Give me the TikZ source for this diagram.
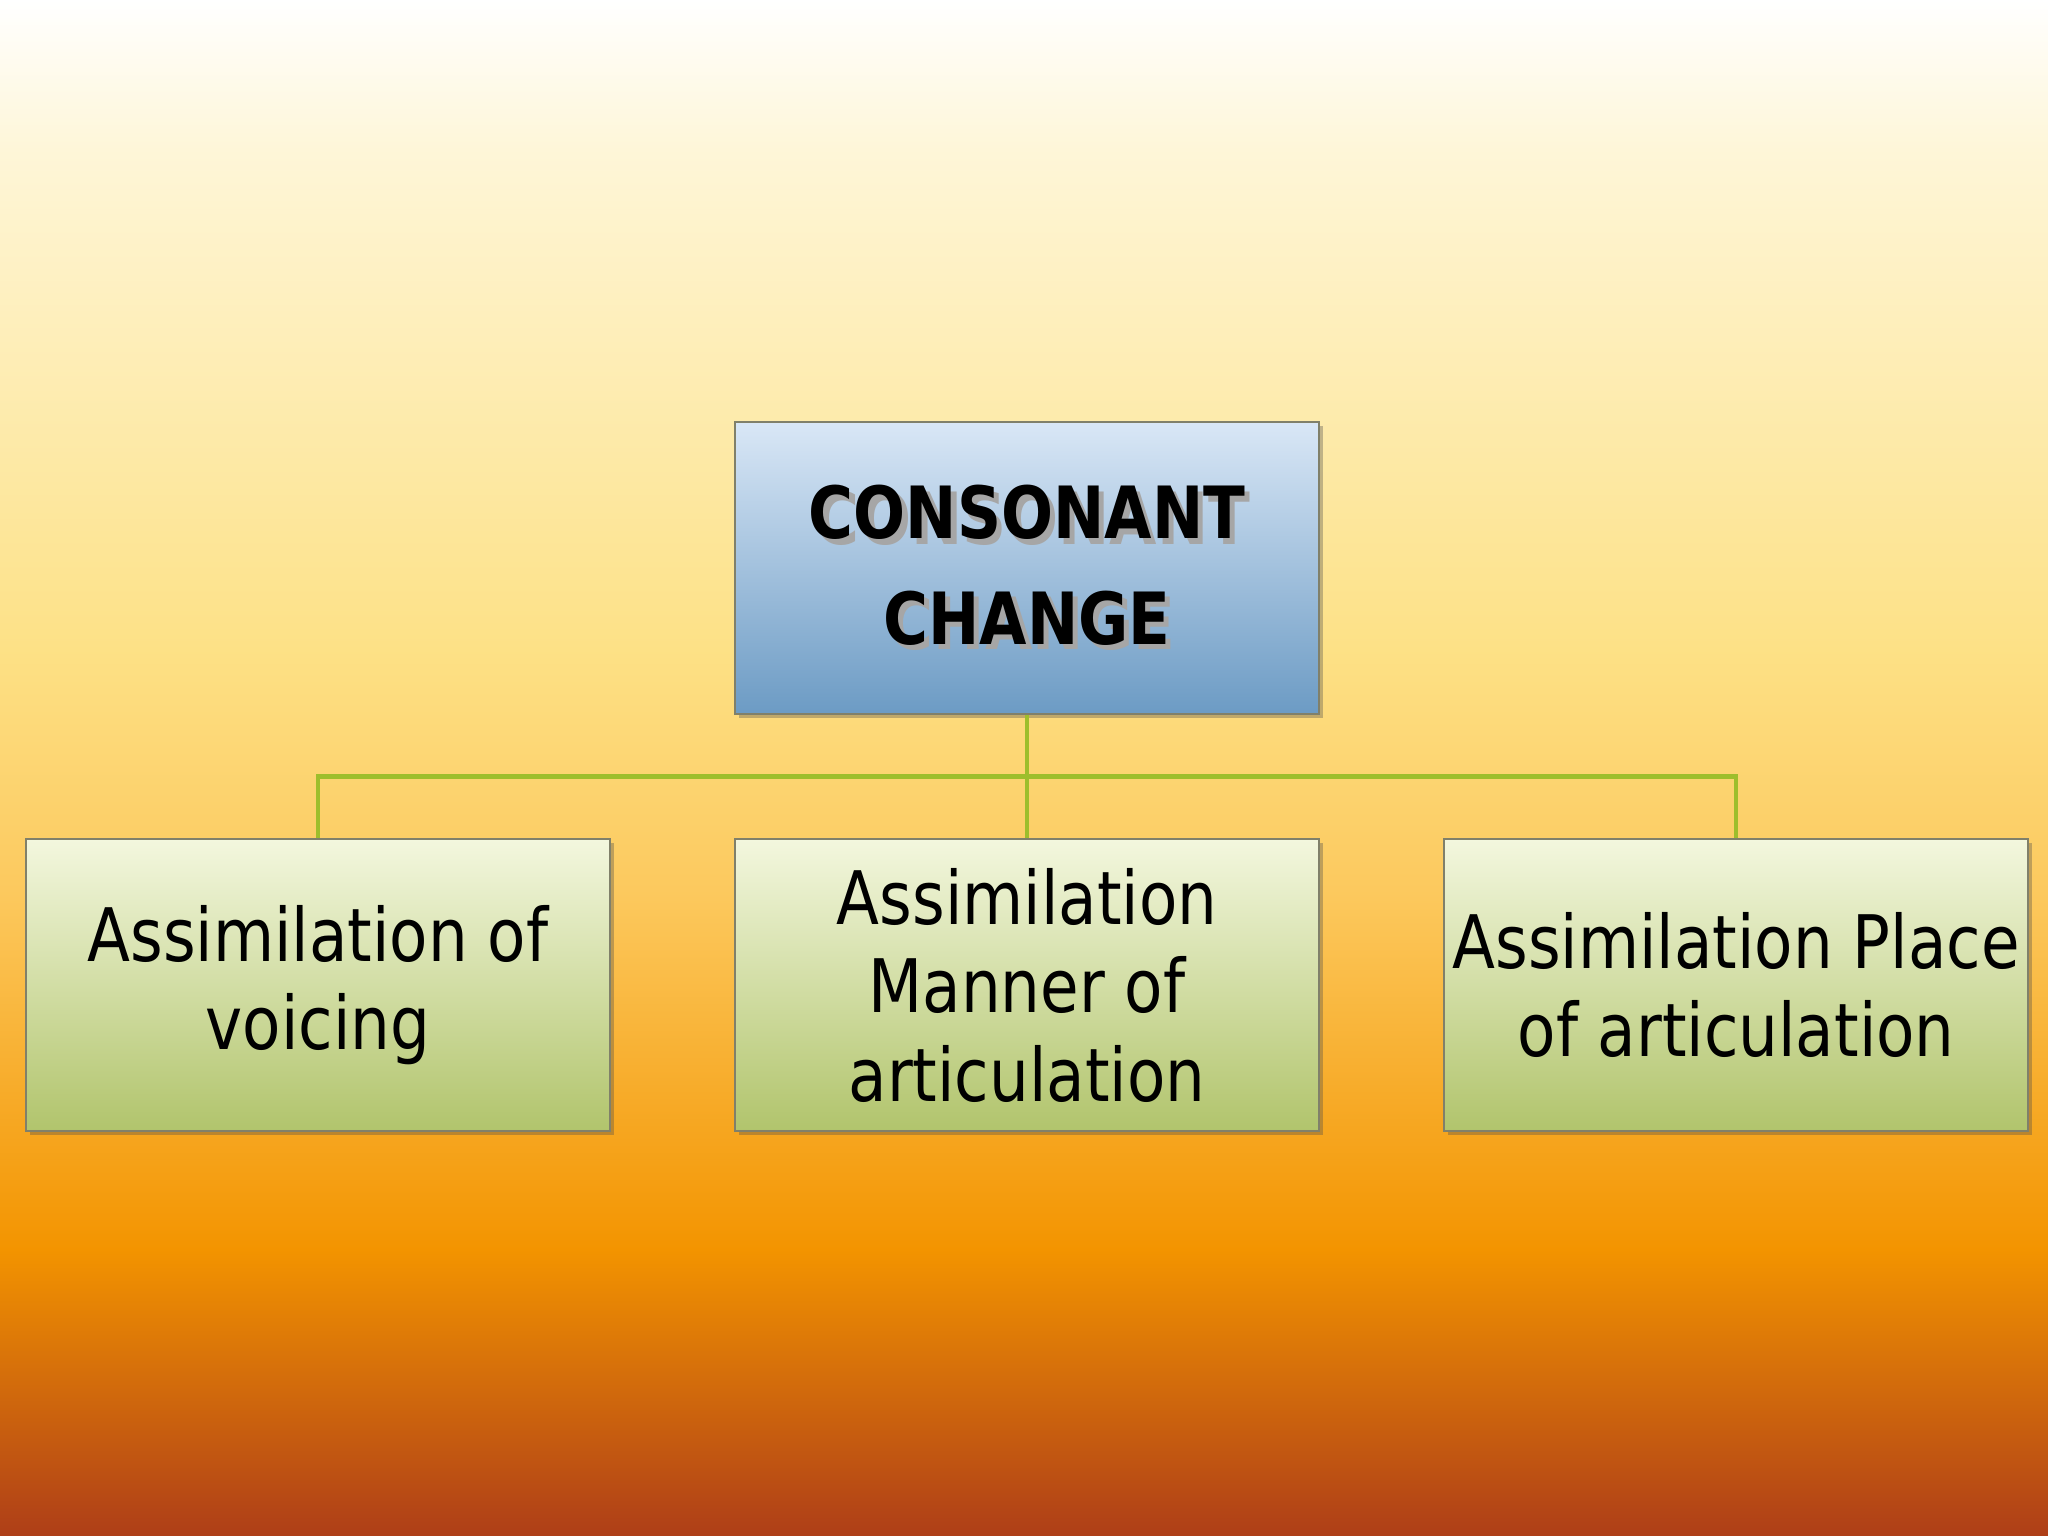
\documentclass[tikz,border=0pt]{standalone}
\usepackage{fontspec}
\setmainfont{DejaVu Sans}[FakeStretch=0.85]
\usetikzlibrary{positioning}
\usetikzlibrary{calc}
\usetikzlibrary{shadows}

\definecolor{bgA}{HTML}{FFFFFF}
\definecolor{bgB}{HTML}{FEF6D8}
\definecolor{bgC}{HTML}{FDE186}
\definecolor{bgD}{HTML}{FCC85C}
\definecolor{bgE}{HTML}{F39400}
\definecolor{bgF}{HTML}{AE3E18}
\definecolor{blueTop}{HTML}{D9E7F6}
\definecolor{blueBot}{HTML}{6C9BC4}
\definecolor{greenTop}{HTML}{F3F7DE}
\definecolor{greenBot}{HTML}{B1C46C}
\definecolor{boxline}{HTML}{80806A}
\definecolor{linkgreen}{HTML}{9EBE2C}

% text with a soft grey shadow behind it
\newcommand{\shtext}[1]{\makebox[0pt][l]{\hspace{1.5pt}\raisebox{-1.5pt}{\color{black!35}#1}}#1}

\tikzset{
    boxbase/.style={draw=boxline, line width=0.6pt, minimum width=5.84cm, minimum height=2.92cm,
        inner xsep=0pt, align=center,
        drop shadow={shadow xshift=0.04cm, shadow yshift=-0.04cm, opacity=0.35, fill=black!70}},
    topbox/.style={boxbase, top color=blueTop, bottom color=blueBot,
        font=\fontsize{20.5}{30}\selectfont\bfseries},
    leafbox/.style={boxbase, top color=greenTop, bottom color=greenBot,
        font=\fontsize{21}{25.2}\selectfont},
    link/.style={draw=linkgreen, line width=1.2pt}
}

\begin{document}
\begin{tikzpicture}

    \useasboundingbox (0,0) rectangle (20.48,15.36);

    % background gradient, top to bottom
    \shade[top color=bgA, bottom color=bgB] (0,15.36) rectangle (20.48,13.86);
    \shade[top color=bgB, bottom color=bgC] (0,13.87) rectangle (20.48,8.86);
    \shade[top color=bgC, bottom color=bgD] (0,8.87) rectangle (20.48,6.36);
    \shade[top color=bgD, bottom color=bgE] (0,6.37) rectangle (20.48,2.86);
    \shade[top color=bgE, bottom color=bgF] (0,2.87) rectangle (20.48,0);

    % boxes
    \node[topbox] (change) at (10.27,9.68) {\shtext{CONSONANT}\\\shtext{CHANGE}};
    \node[leafbox, below=1.23cm of change] (manner) {Assimilation\\Manner of\\articulation};
    \node[leafbox, left=1.23cm of manner] (voicing) {Assimilation of\\voicing};
    \node[leafbox, right=1.23cm of manner] (place) {Assimilation Place\\of articulation};

    % connectors
    \coordinate (bus) at ($(change.south)!0.5!(manner.north)$);
    \draw[link] (change.south) -- (manner.north);
    \draw[link] (voicing.north) |- (bus) -| (place.north);

\end{tikzpicture}
\end{document}
